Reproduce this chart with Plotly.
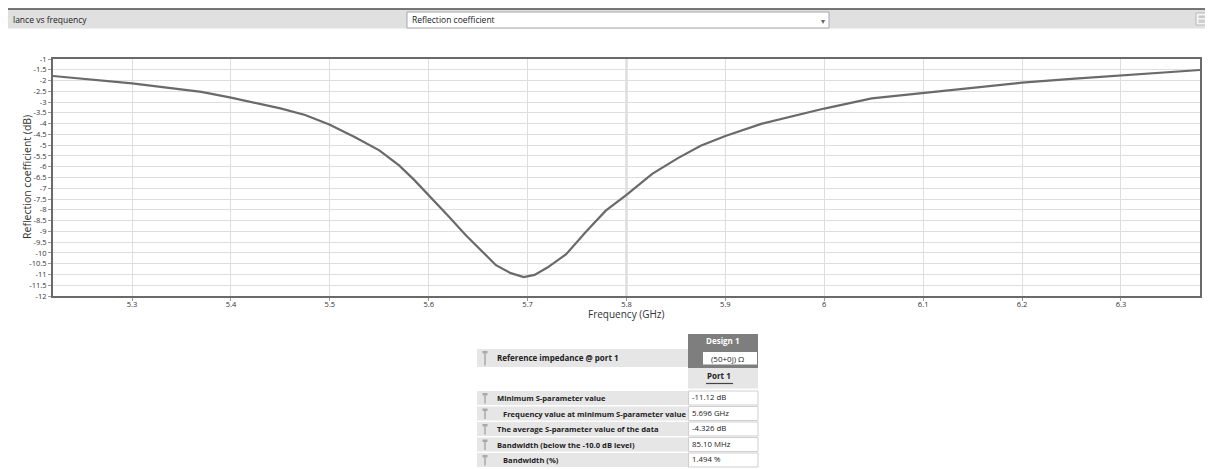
import plotly.graph_objects as go

# ---------------- data ----------------
freq_ghz = [5.22, 5.30, 5.37, 5.40, 5.45, 5.475, 5.50, 5.525, 5.55, 5.57, 5.585,
            5.60, 5.62, 5.638, 5.655, 5.668, 5.683, 5.696, 5.707, 5.72, 5.739,
            5.759, 5.779, 5.80, 5.826, 5.852, 5.875, 5.90, 5.937, 5.975, 6.00,
            6.048, 6.10, 6.15, 6.20, 6.25, 6.30, 6.38]
refl_db = [-1.79, -2.13, -2.53, -2.79, -3.29, -3.60, -4.05, -4.62, -5.24, -5.94, -6.60,
           -7.32, -8.30, -9.20, -10.00, -10.57, -10.94, -11.12, -11.02, -10.68, -10.06,
           -9.02, -8.04, -7.31, -6.33, -5.60, -5.03, -4.57, -4.00, -3.58, -3.30,
           -2.83, -2.57, -2.33, -2.10, -1.92, -1.75, -1.51]

x_ticks = [5.3, 5.4, 5.5, 5.6, 5.7, 5.8, 5.9, 6.0, 6.1, 6.2, 6.3]
x_ticktext = ["5.3", "5.4", "5.5", "5.6", "5.7", "5.8", "5.9", "6", "6.1", "6.2", "6.3"]
y_ticks = [-1, -1.5, -2, -2.5, -3, -3.5, -4, -4.5, -5, -5.5, -6, -6.5, -7, -7.5, -8,
           -8.5, -9, -9.5, -10, -10.5, -11, -11.5, -12]
y_ticktext = ["-1", "-1.5", "-2", "-2.5", "-3", "-3.5", "-4", "-4.5", "-5", "-5.5", "-6",
              "-6.5", "-7", "-7.5", "-8", "-8.5", "-9", "-9.5", "-10", "-10.5", "-11",
              "-11.5", "-12"]
marker_freq = 5.8
x_title = "Frequency (GHz)"
y_title = "Reflection coefficient (dB)"

table_labels = ["Minimum S-parameter value",
                "Frequency value at minimum S-parameter value",
                "The average S-parameter value of the data",
                "Bandwidth (below the -10.0 dB level)",
                "Bandwidth (%)"]
table_values = ["-11.12 dB", "5.696 GHz", "-4.326 dB", "85.10 MHz", "1.494 %"]
table_indent = [False, True, False, False, True]
design_name = "Design 1"
port_name = "Port 1"
impedance_label = "Reference impedance @ port 1"
impedance_value = "(50+0j) Ω"
toolbar_title = "lance vs frequency"
dropdown_text = "Reflection coefficient"

# ---------------- geometry ----------------
# the page body has an 8px margin, so the figure starts at (8, 8) in the window;
# coordinates below are window pixels and are shifted by OFF.
OFF = 8
W, H = 1213 - OFF, 469 - OFF
L, R, T, B = 53 - OFF, 1200 - OFF, 59 - OFF, 296 - OFF
FONT = "Segoe UI, Open Sans, sans-serif"


def px(xp):
    return (xp - OFF - L) / (R - L)


def py(yp):
    return (B - (yp - OFF)) / (B - T)


shapes = []
annos = []


def rect(x0, y0, x1, y1, fill, line_color=None, lw=0):
    shapes.append(dict(type="rect", xref="paper", yref="paper",
                       x0=px(x0), x1=px(x1), y0=py(y1), y1=py(y0),
                       fillcolor=fill, layer="above",
                       line=dict(color=line_color or fill, width=lw)))


def text(x, y, s, size=8, color="#222", bold=False, xanchor="left", angle=0):
    if bold:
        s = "<b>" + s + "</b>"
    annos.append(dict(xref="paper", yref="paper", x=px(x), y=py(y), text=s,
                      showarrow=False, xanchor=xanchor, yanchor="middle", textangle=angle,
                      font=dict(family=FONT, size=size, color=color)))


def pin(x, y0, y1):
    rect(x - 2.5, y0 + 2, x + 2.5, y0 + 4.5, "#a8a8a8")
    shapes.append(dict(type="line", xref="paper", yref="paper",
                       x0=px(x), x1=px(x), y0=py(y0 + 4.5), y1=py(y1 - 1.5),
                       line=dict(color="#a8a8a8", width=1.5), layer="above"))


fig = go.Figure()
fig.add_trace(go.Scatter(x=freq_ghz, y=refl_db, mode="lines",
                         line=dict(color="#6a6a6a", width=2.2),
                         hoverinfo="x+y", showlegend=False))

# marker line at 5.8 GHz
shapes.append(dict(type="line", xref="x", yref="y", x0=marker_freq, x1=marker_freq,
                   y0=-12, y1=-1, line=dict(color="#a8a8a8", width=1.6), layer="below"))

# axis titles
text(27, 177, y_title, size=10.5, color="#333", xanchor="center", angle=-90)
text(626, 314, x_title, size=10, color="#333", xanchor="center")

# ---------------- toolbar ----------------
rect(OFF, 9.5, 1213, 28.5, "#e0e0e0")
shapes.append(dict(type="line", xref="paper", yref="paper", x0=px(OFF), x1=px(1213),
                   y0=py(9), y1=py(9), line=dict(color="#4a4a4a", width=1.5), layer="above"))
text(11, 19.5, toolbar_title, size=8.5, color="#222")
shapes.append(dict(type="rect", xref="paper", yref="paper", x0=px(407), x1=px(829),
                   y0=py(28), y1=py(12), fillcolor="#ffffff", layer="above",
                   line=dict(color="#a8a8a8", width=1)))
text(410, 19.5, dropdown_text, size=8.5, color="#222")
text(823, 20.5, "▾", size=8, color="#666", xanchor="center")
rect(1196, 13, 1209, 25, "#f4f4f4", "#b8b8b8", 1)
rect(1198.5, 15.5, 1206.5, 18, "#c8c8c8")
rect(1198.5, 19.5, 1206.5, 23, "#d0d0d0")

# ---------------- table ----------------
LX0, LX1, VX1 = 477, 688, 758
rect(LX1, 334, VX1, 368, "#7e7e7e")
text((LX1 + VX1) / 2, 340.5, design_name, size=8, color="#ffffff", bold=True, xanchor="center")
rect(703, 352, 757, 364.5, "#ffffff")
text(709, 358.5, impedance_value, size=8, color="#222")
rect(LX0, 349, LX1, 367, "#e6e6e6")
pin(485, 349, 367)
text(495, 357.5, impedance_label, size=8, color="#222", bold=True)
rect(LX1, 368, VX1, 388.5, "#e6e6e6")
text(719, 375.5, port_name, size=8, color="#222", bold=True, xanchor="center")
shapes.append(dict(type="line", xref="paper", yref="paper", x0=px(706), x1=px(733),
                   y0=py(383.5), y1=py(383.5), line=dict(color="#444", width=1.2), layer="above"))

row_top = [391, 406.5, 422, 437.5, 453]
for i, (lab, val, ind) in enumerate(zip(table_labels, table_values, table_indent)):
    y0 = row_top[i]
    y1 = y0 + 14
    rect(LX0, y0, LX1, y1, "#e6e6e6")
    rect(LX1 + 0.5, y0, VX1, y1, "#ffffff", "#cfcfcf", 1)
    pin(485, y0, y1)
    text(500.5 if ind else 495, (y0 + y1) / 2, lab, size=7.6, color="#222", bold=True)
    text(689.5, (y0 + y1) / 2 - 1, val, size=7.8, color="#222")

fig.update_layout(
    width=W, height=H,
    margin=dict(l=L, r=W - R, t=T, b=H - B, autoexpand=False),
    paper_bgcolor="#ffffff", plot_bgcolor="#ffffff",
    font=dict(family=FONT, size=8, color="#333"),
    shapes=shapes, annotations=annos,
    showlegend=False,
)
fig.update_xaxes(range=[5.22, 6.38], tickvals=x_ticks, ticktext=x_ticktext,
                 showgrid=True, gridcolor="#dedede", gridwidth=1,
                 showline=True, linecolor="#6a6a6a", linewidth=2, mirror=True,
                 ticks="outside", ticklen=3, tickcolor="#999", zeroline=False,
                 tickfont=dict(size=7.5, color="#333"), ticklabelstandoff=-3)
fig.update_yaxes(range=[-12, -1], tickvals=y_ticks, ticktext=y_ticktext,
                 showgrid=True, gridcolor="#dedede", gridwidth=1,
                 showline=True, linecolor="#6a6a6a", linewidth=2, mirror=True,
                 ticks="outside", ticklen=3, tickcolor="#999", zeroline=False,
                 tickfont=dict(size=7.5, color="#333"))

fig.write_html("out.html")
